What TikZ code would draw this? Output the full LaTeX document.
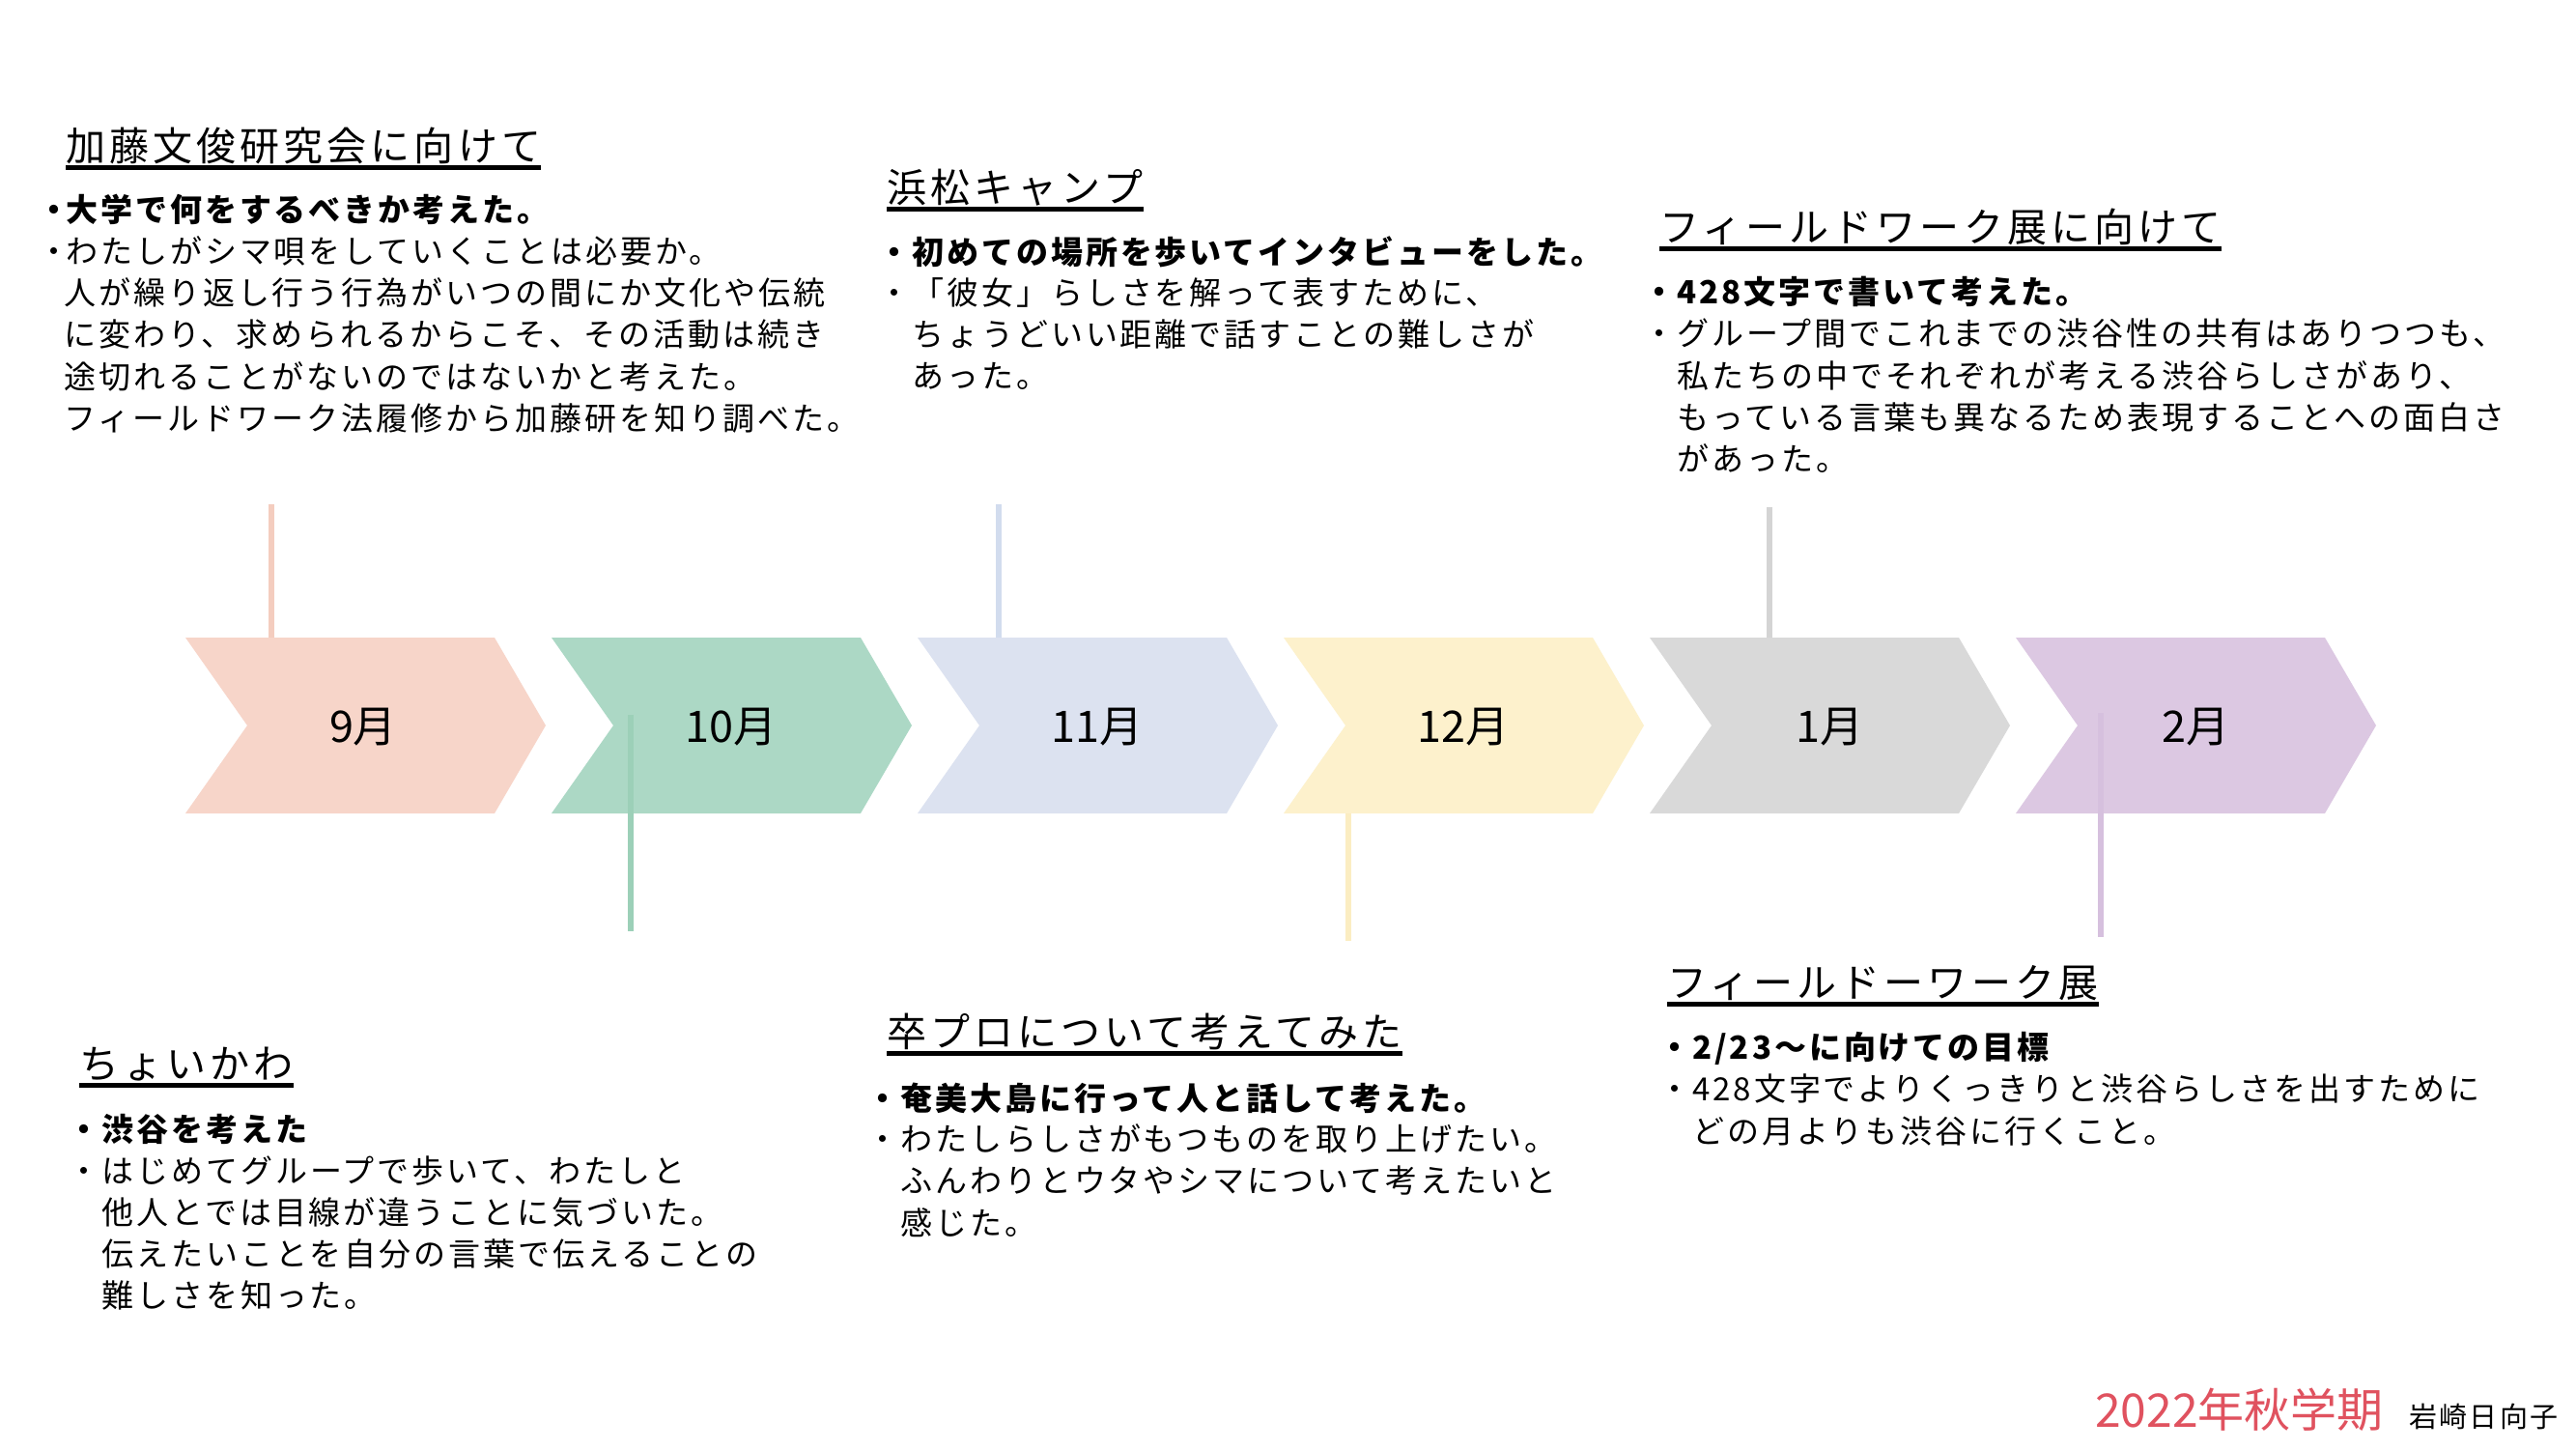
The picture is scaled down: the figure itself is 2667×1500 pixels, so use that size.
\documentclass[tikz,border=0pt]{standalone}
\usepackage{fontspec}
\setmainfont{Noto Sans CJK JP}
\newfontfamily\hfont[LetterSpace=10]{Noto Sans CJK JP}
\newfontfamily\bfont[LetterSpace=9]{Noto Sans CJK JP}
\newfontfamily\mfont{Noto Sans CJK JP}
\newfontfamily\nfont[LetterSpace=8]{Noto Sans CJK JP}
\definecolor{cA}{HTML}{F7D5C9}
\definecolor{cB}{HTML}{ACD8C5}
\definecolor{cC}{HTML}{DCE2F0}
\definecolor{cD}{HTML}{FDF1CC}
\definecolor{cE}{HTML}{D9D9D9}
\definecolor{cF}{HTML}{DCC8E2}
\definecolor{lA}{HTML}{F4CDBF}
\definecolor{lB}{HTML}{9CD0B8}
\definecolor{lC}{HTML}{D2DCEE}
\definecolor{lD}{HTML}{FBEDC2}
\definecolor{lE}{HTML}{D4D4D4}
\definecolor{lF}{HTML}{D6C0DE}
\definecolor{redtxt}{HTML}{E0525F}
\tikzset{
  head/.style={inner sep=0pt, anchor=base west, font=\hfont\fontsize{41}{49}\selectfont},
  body/.style={inner sep=0pt, anchor=base west, font=\bfont\fontsize{33}{43}\selectfont},
  month/.style={inner sep=0pt, anchor=center, font=\mfont\fontsize{45}{52}\selectfont},
  uline/.style={line width=5pt, black},
  tick/.style={line width=6pt},
}
\newcommand{\bul}[1]{\llap{\makebox[#1][c]{・}}}
\newcommand{\chev}[2]{\fill[#2] (#1,660) -- ++(320,0) -- ++(53,91) -- ++(-53,91) -- ++(-320,0) -- ++(64,-91) -- cycle;}
\begin{document}
\begin{tikzpicture}[x=1pt,y=-1pt]
\fill[white] (0,0) rectangle (2667,1500);
\useasboundingbox (0,0) rectangle (2667,1500);

% chevrons
\chev{192}{cA}
\chev{571}{cB}
\chev{950}{cC}
\chev{1329}{cD}
\chev{1708}{cE}
\chev{2087}{cF}
\node[month] (m1) at (376,753) {9月};
\node[month] (m2) at (757,753) {10月};
\node[month] (m3) at (1136,753) {11月};
\node[month] (m4) at (1515,753) {12月};
\node[month] (m5) at (1894,753) {1月};
\node[month] (m6) at (2273,753) {2月};

% ticks
\coordinate (t1a) at (281,522); \coordinate (t1b) at (281,660);
\coordinate (t2a) at (653,740); \coordinate (t2b) at (653,964);
\coordinate (t3a) at (1034,522); \coordinate (t3b) at (1034,660);
\coordinate (t4a) at (1396,842); \coordinate (t4b) at (1396,974);
\coordinate (t5a) at (1832,525); \coordinate (t5b) at (1832,660);
\coordinate (t6a) at (2175,738); \coordinate (t6b) at (2175,970);
\draw[tick, lA] (t1a) -- (t1b);
\draw[tick, lB] (t2a) -- (t2b);
\draw[tick, lC] (t3a) -- (t3b);
\draw[tick, lD] (t4a) -- (t4b);
\draw[tick, lE] (t5a) -- (t5b);
\draw[tick, lF] (t6a) -- (t6b);

% block 1
\node[head] (h1) at (68,166) {加藤文俊研究会に向けて};
\draw[uline] ([yshift=-7pt]h1.base west) -- ([yshift=-7pt]h1.base east);
\node[body] (a1) at (68,229) {\bfseries\bul{24pt}大学で何をするべきか考えた。};
\node[body] (a2) at (68,272) {\bul{24pt}わたしがシマ唄をしていくことは必要か。};
\node[body] (a3) at (66,315) {人が繰り返し行う行為がいつの間にか文化や伝統};
\node[body] (a4) at (66,358) {に変わり、求められるからこそ、その活動は続き};
\node[body] (a5) at (66,402) {途切れることがないのではないかと考えた。};
\node[body] (a6) at (66,445) {フィールドワーク法履修から加藤研を知り調べた。};

% block 2
\node[head] (h2) at (918,209) {浜松キャンプ};
\draw[uline] ([yshift=-7pt]h2.base west) -- ([yshift=-7pt]h2.base east);
\node[body] (b1) at (944,273) {\bfseries\bul{36pt}初めての場所を歩いてインタビューをした。};
\node[body] (b2) at (944,315) {\bul{36pt}「彼女」らしさを解って表すために、};
\node[body] (b3) at (944,358) {ちょうどいい距離で話すことの難しさが};
\node[body] (b4) at (944,401) {あった。};

% block 3
\node[head] (h3) at (1718,250) {フィールドワーク展に向けて};
\draw[uline] ([yshift=-7pt]h3.base west) -- ([yshift=-7pt]h3.base east);
\node[body] (c1) at (1736,314) {\bfseries\bul{36pt}428文字で書いて考えた。};
\node[body] (c2) at (1736,357) {\bul{36pt}グループ間でこれまでの渋谷性の共有はありつつも、};
\node[body] (c3) at (1736,401) {私たちの中でそれぞれが考える渋谷らしさがあり、};
\node[body] (c4) at (1736,444) {もっている言葉も異なるため表現することへの面白さ};
\node[body] (c5) at (1736,487) {があった。};

% block 4
\node[head] (h4) at (82,1116) {ちょいかわ};
\draw[uline] ([yshift=-7pt]h4.base west) -- ([yshift=-7pt]h4.base east);
\node[body] (d1) at (105,1181) {\bfseries\bul{36pt}渋谷を考えた};
\node[body] (d2) at (105,1224) {\bul{36pt}はじめてグループで歩いて、わたしと};
\node[body] (d3) at (105,1267) {他人とでは目線が違うことに気づいた。};
\node[body] (d4) at (105,1310) {伝えたいことを自分の言葉で伝えることの};
\node[body] (d5) at (105,1353) {難しさを知った。};

% block 5
\node[head] (h5) at (918,1083) {卒プロについて考えてみた};
\draw[uline] ([yshift=-7pt]h5.base west) -- ([yshift=-7pt]h5.base east);
\node[body] (e1) at (932,1149) {\bfseries\bul{36pt}奄美大島に行って人と話して考えた。};
\node[body] (e2) at (932,1191) {\bul{36pt}わたしらしさがもつものを取り上げたい。};
\node[body] (e3) at (932,1234) {ふんわりとウタやシマについて考えたいと};
\node[body] (e4) at (932,1278) {感じた。};

% block 6
\node[head] (h6) at (1726,1032) {フィールドーワーク展};
\draw[uline] ([yshift=-7pt]h6.base west) -- ([yshift=-7pt]h6.base east);
\node[body] (f1) at (1752,1096) {\bfseries\bul{36pt}2/23〜に向けての目標};
\node[body] (f2) at (1752,1139) {\bul{36pt}428文字でよりくっきりと渋谷らしさを出すために};
\node[body] (f3) at (1752,1183) {どの月よりも渋谷に行くこと。};

% footer
\node[inner sep=0pt, anchor=base west, text=redtxt, font=\mfont\fontsize{48}{56}\selectfont] (ft1) at (2169,1477) {2022年秋学期};
\node[inner sep=0pt, anchor=base west, font=\nfont\fontsize{29}{34}\selectfont] (ft2) at (2494,1477) {岩崎日向子};
\end{tikzpicture}
\end{document}
